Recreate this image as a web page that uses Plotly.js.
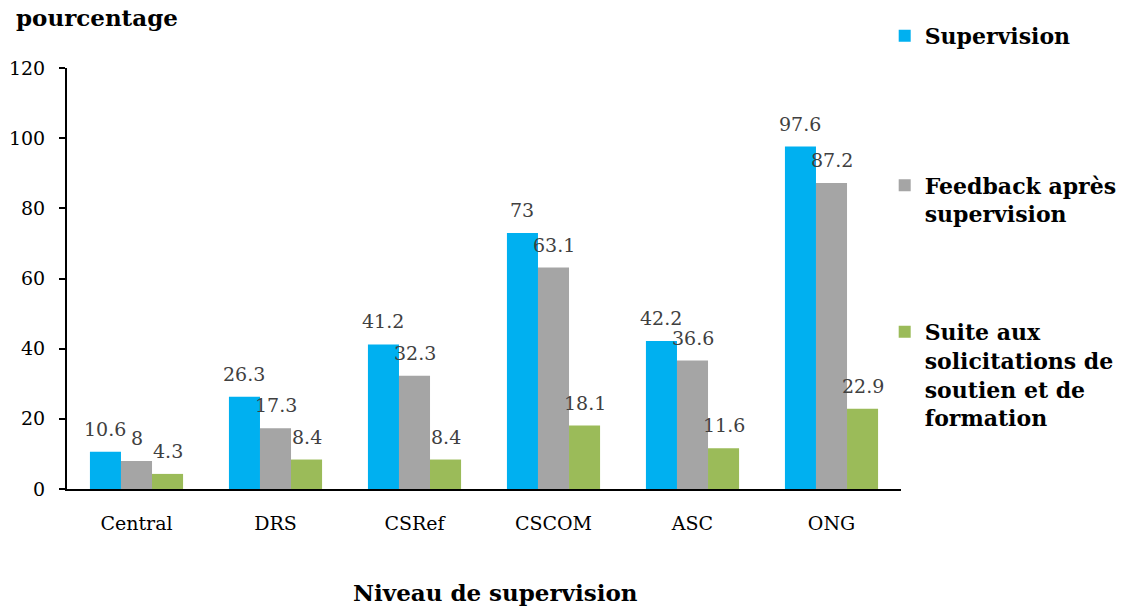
<!DOCTYPE html>
<html>
<head>
<meta charset="utf-8">
<script src="https://cdn.plot.ly/plotly-3.0.1.min.js"></script>
<style>html,body{margin:0;padding:0;background:#fff;}#chart{width:1122px;height:609px;}</style>
</head>
<body>
<div id="chart"></div>
<script>
const categories = ["Central", "DRS", "CSRef", "CSCOM", "ASC", "ONG"];
const supervision = [10.6, 26.3, 41.2, 73, 42.2, 97.6];
const feedback = [8, 17.3, 32.3, 63.1, 36.6, 87.2];
const suite = [4.3, 8.4, 8.4, 18.1, 11.6, 22.9];
const seriesNames = ["Supervision", "Feedback après<br>supervision", "Suite aux<br>solicitations de<br>soutien et de<br>formation"];
const yTicks = [0, 20, 40, 60, 80, 100, 120];

const FONT = "DejaVu Serif, Liberation Serif, serif";
const colors = ["#00B0F0", "#A5A5A5", "#9BBB59"];
const seriesVals = [supervision, feedback, suite];
const legendIds = ["legend", "legend2", "legend3"];

const W = 1122, H = 609;
const margin = {l: 67, r: 221, t: 68, b: 120, autoexpand: false};
const BARGAP = 0.33;
const plotW = W - margin.l - margin.r;
const barPx = plotW / categories.length * (1 - BARGAP) / seriesVals.length;

const traces = seriesVals.map((vals, i) => ({
  type: "bar",
  name: seriesNames[i],
  x: categories,
  y: vals,
  marker: {color: colors[i]},
  legend: legendIds[i],
  hoverinfo: "x+y"
}));

// data labels placed above each bar (value read from the series arrays)
const labelAnns = [];
seriesVals.forEach((vals, i) => {
  vals.forEach((v, j) => {
    labelAnns.push({
      x: categories[j], y: v, xref: "x", yref: "y",
      text: String(v), showarrow: false,
      xanchor: "center", yanchor: "bottom",
      xshift: (i - (seriesVals.length - 1) / 2) * barPx,
      yshift: 10,
      font: {family: FONT, size: 19, color: "#404040"}
    });
  });
});

const legendBase = {
  xref: "container", yref: "container",
  xanchor: "left", yanchor: "top",
  x: 0.7885,
  font: {family: FONT, size: 22, color: "#000", weight: "bold"},
  valign: "top",
  bgcolor: "rgba(0,0,0,0)",
  itemwidth: 30
};

const layout = {
  width: W, height: H,
  margin: margin,
  paper_bgcolor: "#fff", plot_bgcolor: "#fff",
  barmode: "group",
  bargap: BARGAP,
  bargroupgap: 0,
  font: {family: FONT, color: "#000"},
  showlegend: true,
  legend: Object.assign({}, legendBase, {y: 0.9754}),
  legend2: Object.assign({}, legendBase, {y: 0.73}),
  legend3: Object.assign({}, legendBase, {y: 0.4894}),
  xaxis: {
    type: "category",
    showline: true, linecolor: "#000", linewidth: 2,
    ticks: "",
    showgrid: false, zeroline: false,
    tickfont: {family: FONT, size: 19, color: "#000"},
    ticklabelstandoff: 16
  },
  yaxis: {
    range: [0, 120],
    tickvals: yTicks,
    ticktext: yTicks.map(String),
    showline: true, linecolor: "#000", linewidth: 2,
    ticks: "outside", ticklen: 6, tickwidth: 1.5, tickcolor: "#000",
    showgrid: false, zeroline: false,
    tickfont: {family: FONT, size: 19, color: "#000"},
    ticklabelstandoff: 10
  },
  annotations: labelAnns.concat([
    {text: "pourcentage", xref: "paper", yref: "paper", x: -0.064, y: 1.121,
     xanchor: "left", yanchor: "middle", showarrow: false,
     font: {family: FONT, size: 23, color: "#000", weight: "bold"}},
    {text: "Niveau de supervision", xref: "paper", yref: "paper", x: 0.514, y: -0.247,
     xanchor: "center", yanchor: "middle", showarrow: false,
     font: {family: FONT, size: 23, color: "#000", weight: "bold"}}
  ])
};

Plotly.newPlot("chart", traces, layout, {displayModeBar: false, responsive: false});
</script>
</body>
</html>
